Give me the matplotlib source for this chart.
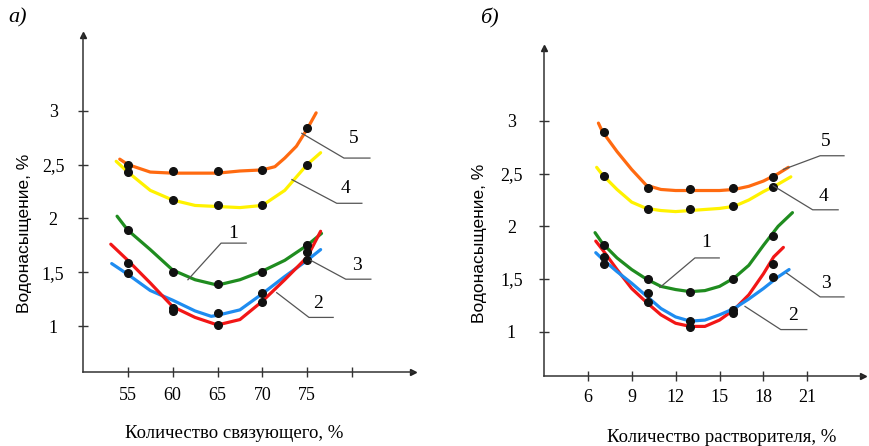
import matplotlib
matplotlib.use("Agg")
import matplotlib.pyplot as plt

# ---- panel a): binder content ----
a_c5_x = [54.1, 55, 57.5, 60, 62.5, 65, 67.5, 70, 71.4, 72.5, 73.8, 75, 76.0]
a_c5_y = [2.55, 2.50, 2.43, 2.42, 2.42, 2.42, 2.44, 2.45, 2.48, 2.56, 2.67, 2.83, 2.98]
a_c4_x = [53.7, 55, 57.5, 60, 62.5, 65, 67.5, 70, 72.5, 75, 76.5]
a_c4_y = [2.53, 2.43, 2.26, 2.17, 2.12, 2.11, 2.10, 2.12, 2.26, 2.50, 2.61]
a_c1_x = [53.8, 55, 57.5, 60, 62.5, 65, 67.5, 70, 72.5, 75, 76.6]
a_c1_y = [2.02, 1.89, 1.71, 1.52, 1.43, 1.38, 1.43, 1.51, 1.61, 1.75, 1.86]
a_c2_x = [53.1, 55, 57.5, 60, 62.5, 65, 67.5, 70, 72.5, 75, 76.5]
a_c2_y = [1.76, 1.61, 1.40, 1.18, 1.08, 1.01, 1.06, 1.23, 1.43, 1.64, 1.88]
a_c3_x = [53.2, 55, 57.5, 60, 62.5, 64.3, 65, 67.5, 70, 72.5, 75, 76.5]
a_c3_y = [1.58, 1.48, 1.33, 1.24, 1.14, 1.09, 1.10, 1.15, 1.30, 1.46, 1.61, 1.71]

a_dot_x = [55, 60, 65, 70, 75]
a_dots_5 = [2.50, 2.44, 2.44, 2.45, 2.84]
a_dots_4 = [2.43, 2.17, 2.12, 2.12, 2.50]
a_dots_1 = [1.89, 1.50, 1.39, 1.50, 1.75]
a_dots_2 = [1.59, 1.14, 1.01, 1.22, 1.69]
a_dots_3 = [1.49, 1.17, 1.12, 1.31, 1.61]

a_yticks = [1, 1.5, 2, 2.5, 3]
a_xticks = [55, 60, 65, 70, 75, 80]
a_xticklabels = ["55", "60", "65", "70", "75", ""]

# callouts: (label, leader x, leader y, text x, text y)
a_callouts = [
    ("1", [61.7, 65.4, 68.2], [1.43, 1.77, 1.77], 66.7, 1.86),
    ("2", [71.6, 75.2, 77.9], [1.31, 1.08, 1.08], 76.2, 1.21),
    ("3", [75.4, 79.3, 82.1], [1.61, 1.435, 1.435], 80.6, 1.565),
    ("4", [73.3, 78.3, 81.1], [2.36, 2.14, 2.14], 79.3, 2.28),
    ("5", [74.4, 79.1, 82.0], [2.79, 2.56, 2.56], 80.2, 2.74),
]

# ---- panel б): solvent content ----
b_c5_x = [6.73, 7, 8, 9, 10, 11, 12, 13, 14, 15, 16, 17, 18, 19, 19.7]
b_c5_y = [2.98, 2.90, 2.71, 2.54, 2.39, 2.35, 2.34, 2.34, 2.34, 2.34, 2.35, 2.38, 2.43, 2.50, 2.56]
b_c4_x = [6.61, 7, 8, 9, 10, 11, 12, 13, 14, 15, 16, 17, 18, 19, 19.87]
b_c4_y = [2.56, 2.49, 2.35, 2.23, 2.17, 2.15, 2.14, 2.15, 2.16, 2.17, 2.19, 2.25, 2.33, 2.40, 2.47]
b_c1_x = [6.5, 7, 8, 9, 10, 11, 12, 13, 14, 15, 16, 17, 18, 19, 19.98]
b_c1_y = [1.94, 1.84, 1.70, 1.59, 1.50, 1.43, 1.40, 1.38, 1.39, 1.43, 1.51, 1.63, 1.82, 2.00, 2.13]
b_c2_x = [6.55, 7, 8, 9, 10, 11, 12, 13, 14, 15, 16, 17, 18, 18.7, 19.36]
b_c2_y = [1.86, 1.78, 1.59, 1.41, 1.28, 1.16, 1.08, 1.05, 1.05, 1.11, 1.21, 1.35, 1.55, 1.71, 1.80]
b_c3_x = [6.55, 7, 8, 9, 10, 11, 12, 13, 14, 15, 16, 17, 18, 19, 19.75]
b_c3_y = [1.75, 1.69, 1.57, 1.46, 1.34, 1.22, 1.14, 1.10, 1.11, 1.16, 1.22, 1.31, 1.41, 1.52, 1.59]

b_dot_x = [7.1, 10.1, 13.0, 15.9, 18.65]
b_dots_5 = [2.90, 2.36, 2.35, 2.36, 2.47]
b_dots_4 = [2.48, 2.16, 2.16, 2.19, 2.37]
b_dots_1 = [1.82, 1.50, 1.375, 1.50, 1.91]
b_dots_2 = [1.71, 1.28, 1.04, 1.175, 1.64]
b_dots_3 = [1.64, 1.37, 1.105, 1.21, 1.52]

b_yticks = [1, 1.5, 2, 2.5, 3]
b_xticks = [6, 9, 12, 15, 18, 21]
b_xticklabels = ["6", "9", "12", "15", "18", "21"]

b_callouts = [
    ("1", [10.93, 13.32, 14.98], [1.42, 1.70, 1.70], 14.12, 1.85),
    ("2", [16.74, 19.18, 20.96], [1.24, 1.02, 1.02], 20.0, 1.15),
    ("3", [19.59, 21.87, 23.5], [1.555, 1.33, 1.33], 22.3, 1.46),
    ("4", [18.67, 21.36, 23.1], [2.385, 2.157, 2.157], 22.1, 2.28),
    ("5", [19.36, 21.87, 23.5], [2.54, 2.67, 2.67], 22.26, 2.81),
]

COLORS = {"5": "#FF6A10", "4": "#FFF200", "1": "#1F8C1F", "2": "#F21616", "3": "#1E8CF0"}
SERIF = "Liberation Serif"
SANS = "Liberation Sans"


def fmt(v):
    return ("%g" % v).replace(".", ",")


def setup_axes(ax, xlim, ylim, xticks, xticklabels, yticks, ypad, xpad):
    ax.set_xlim(*xlim)
    ax.set_ylim(*ylim)
    for s in ("top", "right"):
        ax.spines[s].set_visible(False)
    for s in ("left", "bottom"):
        ax.spines[s].set_color("#333333")
        ax.spines[s].set_linewidth(1.1)
    ax.set_xticks(xticks)
    ax.set_xticklabels(xticklabels, fontfamily=SERIF, fontsize=13)
    ax.set_yticks(yticks)
    ax.set_yticklabels([fmt(v) for v in yticks], fontfamily=SERIF, fontsize=13)
    ax.tick_params(axis="both", direction="inout", length=7, width=1, color="#333333")
    ax.tick_params(axis="y", pad=ypad)
    ax.tick_params(axis="x", pad=xpad)
    for lbl in ax.get_yticklabels():
        lbl.set_horizontalalignment("center")
    # arrow heads
    ax.plot(1, 0, ">", color="#222222", ms=5, transform=ax.transAxes, clip_on=False)
    ax.plot(0, 1, "^", color="#222222", ms=5, transform=ax.transAxes, clip_on=False)


def draw_panel(ax, curves, dot_x, dots, callouts):
    for key, xs, ys in curves:
        ax.plot(xs, ys, color=COLORS[key], lw=2.3, solid_capstyle="round",
                solid_joinstyle="round", zorder=2)
    for ys in dots:
        ax.plot(dot_x, ys, "o", color="#111111", ms=5.5, zorder=3)
    for label, lx, ly, tx, ty in callouts:
        ax.plot(lx, ly, color="#555555", lw=0.9, zorder=4, clip_on=False)
        ax.text(tx, ty, label, fontfamily=SERIF, fontsize=14, ha="center", va="center")


fig = plt.figure(figsize=(8.7, 4.46), dpi=100)
ax_a = fig.add_axes([0.0954, 0.1652, 0.3793, 0.7563])
ax_b = fig.add_axes([0.6253, 0.1576, 0.3667, 0.7348])

setup_axes(ax_a, (50, 86.8), (0.570, 3.703), a_xticks, a_xticklabels, a_yticks, 18, 7)
setup_axes(ax_b, (3.015, 24.8), (0.582, 3.693), b_xticks, b_xticklabels, b_yticks, 20, 6)

draw_panel(ax_a,
           [("5", a_c5_x, a_c5_y), ("4", a_c4_x, a_c4_y), ("1", a_c1_x, a_c1_y),
            ("3", a_c3_x, a_c3_y), ("2", a_c2_x, a_c2_y)],
           a_dot_x, [a_dots_5, a_dots_4, a_dots_1, a_dots_2, a_dots_3], a_callouts)
draw_panel(ax_b,
           [("5", b_c5_x, b_c5_y), ("4", b_c4_x, b_c4_y), ("1", b_c1_x, b_c1_y),
            ("2", b_c2_x, b_c2_y), ("3", b_c3_x, b_c3_y)],
           b_dot_x, [b_dots_5, b_dots_4, b_dots_1, b_dots_2, b_dots_3], b_callouts)

W, H = 870.0, 446.0
fig.text(8 / W, 1 - 18 / H, "а)", fontfamily=SERIF, fontstyle="italic", fontsize=16, va="center")
fig.text(480 / W, 1 - 18 / H, "б)", fontfamily=SERIF, fontstyle="italic", fontsize=16, va="center")
fig.text(234 / W, 1 - 433 / H, "Количество связующего, %", fontfamily=SERIF, fontsize=13.5,
         ha="center", va="center")
fig.text(722 / W, 1 - 437 / H, "Количество растворителя, %", fontfamily=SERIF, fontsize=13.5,
         ha="center", va="center")
fig.text(25 / W, 1 - 233 / H, "Водонасыщение, %", fontfamily=SANS, fontsize=12.5,
         rotation=90, ha="center", va="center")
fig.text(480 / W, 1 - 243 / H, "Водонасыщение, %", fontfamily=SANS, fontsize=12.5,
         rotation=90, ha="center", va="center")

fig.savefig("out.png", dpi=100)
